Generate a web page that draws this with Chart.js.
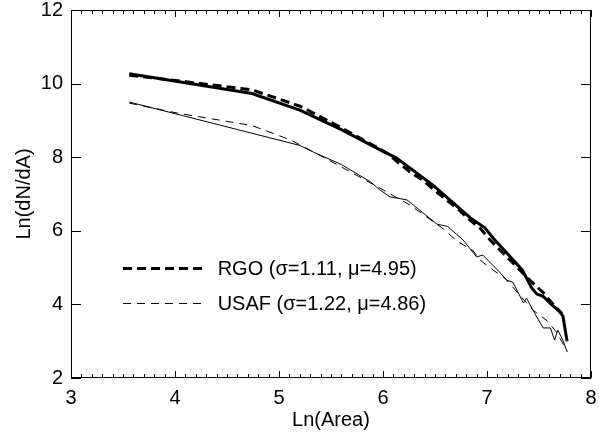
<!DOCTYPE html>
<html lang="en">
  <head>
    <meta charset="UTF-8" />
    <title>Ln(dN/dA) vs Ln(Area)</title>
    <style>
      html, body {
        margin: 0;
        padding: 0;
        background: #ffffff;
      }
      .chart-container {
        position: relative;
        width: 599px;
        height: 434px;
      }
    </style>
    <script src="https://cdn.jsdelivr.net/npm/chart.js@4.4.1/dist/chart.umd.min.js"></script>
  </head>
  <body>
    <div class="chart-container">
      <canvas id="areaChart"></canvas>
    </div>

    <script>
      // RGO measured distribution (thick solid)
      const rgoX = [3.56, 4.74, 5.20, 5.60, 6.00, 6.13, 6.48, 6.84, 6.98, 7.06, 7.20, 7.34, 7.43, 7.48, 7.54, 7.62, 7.70, 7.73, 7.77];
      const rgoY = [10.27, 9.73, 9.28, 8.75, 8.16, 7.98, 7.24, 6.35, 6.08, 5.80, 5.37, 4.93, 4.45, 4.28, 4.22, 4.00, 3.80, 3.68, 3.00];

      // RGO fit (thick dashed)
      const rgoFitX = [3.56, 4.14, 4.74, 5.20, 5.60, 6.04, 6.14, 6.26, 6.38, 6.48, 6.60, 6.71, 6.81, 6.93, 7.03, 7.23, 7.43, 7.54, 7.62, 7.72];
      const rgoFitY = [10.23, 10.04, 9.83, 9.39, 8.80, 8.11, 7.87, 7.60, 7.38, 7.14, 6.86, 6.62, 6.35, 6.08, 5.75, 5.18, 4.61, 4.32, 4.05, 3.75];

      // USAF measured distribution (thin solid)
      const usafX = [3.56, 5.20, 5.33, 5.60, 5.88, 5.97, 6.07, 6.13, 6.23, 6.52, 6.62, 6.77, 6.90, 6.96, 7.13, 7.19, 7.25, 7.35, 7.38, 7.44, 7.54, 7.61, 7.65, 7.68, 7.73, 7.77];
      const usafY = [9.50, 8.32, 8.14, 7.80, 7.33, 7.11, 6.92, 6.89, 6.84, 6.18, 6.12, 5.75, 5.29, 5.34, 4.85, 4.66, 4.60, 4.04, 4.17, 3.85, 3.36, 3.36, 3.03, 3.30, 3.03, 2.71];

      // USAF fit (thin dashed)
      const usafFitX = [3.56, 4.02, 4.74, 5.11, 5.40, 5.70, 5.97, 6.26, 6.58, 6.72, 6.86, 6.93, 7.06, 7.17, 7.30, 7.44, 7.58, 7.67, 7.77];
      const usafFitY = [9.47, 9.20, 8.86, 8.47, 8.04, 7.58, 7.16, 6.70, 6.05, 5.70, 5.48, 5.21, 4.93, 4.72, 4.30, 3.85, 3.55, 3.24, 2.73];

      const legendLabels = ["RGO (\u03c3=1.11, \u03bc=4.95)", "USAF (\u03c3=1.22, \u03bc=4.86)"];

      const FONT = "'Liberation Sans', Arial, Helvetica, sans-serif";
      const FONT_SIZE = 20;

      function pts(xs, ys) {
        return xs.map((x, i) => ({ x: x, y: ys[i] }));
      }

      // frame with inward ticks on all four sides, IDL style
      const frameTicks = {
        id: "frameTicks",
        afterDraw(chart) {
          const { ctx, chartArea: a, scales } = chart;
          const xs = scales.x;
          const ys = scales.y;
          ctx.save();
          ctx.strokeStyle = "#000";
          ctx.lineWidth = 1;
          ctx.strokeRect(a.left + 0.5, a.top + 0.5, a.right - a.left - 1, a.bottom - a.top - 1);
          ctx.beginPath();
          for (let i = 0; i <= 50; i++) {
            const v = 3 + i * 0.1;
            const px = Math.round(xs.getPixelForValue(v)) + 0.5;
            const len = i % 10 === 0 ? 7 : 4;
            ctx.moveTo(px, a.bottom);
            ctx.lineTo(px, a.bottom - len);
            ctx.moveTo(px, a.top);
            ctx.lineTo(px, a.top + len);
          }
          for (let v = 2; v <= 12; v += 2) {
            const py = Math.round(ys.getPixelForValue(v)) + 0.5;
            ctx.moveTo(a.left, py);
            ctx.lineTo(a.left + 10, py);
            ctx.moveTo(a.right, py);
            ctx.lineTo(a.right - 10, py);
          }
          ctx.stroke();
          ctx.restore();
        },
      };

      // legend drawn inside the plot, only the two fits
      const innerLegend = {
        id: "innerLegend",
        afterDatasetsDraw(chart) {
          const { ctx, scales } = chart;
          const fits = [chart.data.datasets[1], chart.data.datasets[3]];
          const rows = [4.99, 4.04];
          ctx.save();
          ctx.font = FONT_SIZE + "px " + FONT;
          ctx.fillStyle = "#000";
          ctx.textBaseline = "middle";
          fits.forEach((ds, i) => {
            const y = Math.round(scales.y.getPixelForValue(rows[i]));
            const x0 = scales.x.getPixelForValue(3.5);
            const x1 = scales.x.getPixelForValue(4.29);
            ctx.strokeStyle = "#000";
            ctx.lineWidth = ds.borderWidth;
            ctx.setLineDash(ds.borderDash);
            ctx.beginPath();
            ctx.moveTo(x0, y + 0.5);
            ctx.lineTo(x1, y + 0.5);
            ctx.stroke();
            ctx.setLineDash([]);
            ctx.fillText(legendLabels[i], scales.x.getPixelForValue(4.41), y + 1);
          });
          ctx.restore();
        },
      };

      const ctx = document.getElementById("areaChart").getContext("2d");
      new Chart(ctx, {
        type: "scatter",
        data: {
          datasets: [
            {
              label: "RGO",
              data: pts(rgoX, rgoY),
              borderColor: "#000",
              borderWidth: 3,
              showLine: true,
              pointRadius: 0,
              order: 2,
            },
            {
              label: legendLabels[0],
              data: pts(rgoFitX, rgoFitY),
              borderColor: "#000",
              borderWidth: 3,
              borderDash: [9, 5],
              showLine: true,
              pointRadius: 0,
              order: 1,
            },
            {
              label: "USAF",
              data: pts(usafX, usafY),
              borderColor: "#000",
              borderWidth: 1,
              showLine: true,
              pointRadius: 0,
              order: 4,
            },
            {
              label: legendLabels[1],
              data: pts(usafFitX, usafFitY),
              borderColor: "#000",
              borderWidth: 1,
              borderDash: [8, 6],
              showLine: true,
              pointRadius: 0,
              order: 3,
            },
          ],
        },
        options: {
          responsive: true,
          maintainAspectRatio: false,
          animation: false,
          layout: { padding: { top: 10, right: 8, left: 0, bottom: 0 } },
          plugins: {
            legend: { display: false },
            tooltip: { enabled: false },
          },
          scales: {
            x: {
              type: "linear",
              min: 3,
              max: 8,
              grid: { display: false, drawTicks: false },
              border: { display: false },
              ticks: {
                stepSize: 1,
                color: "#000",
                padding: 8,
                font: { family: FONT, size: FONT_SIZE },
              },
              title: {
                display: true,
                text: "Ln(Area)",
                color: "#000",
                padding: { top: 0, bottom: 2 },
                font: { family: FONT, size: FONT_SIZE },
              },
              afterFit(scale) {
                scale.height = 56;
                scale.paddingLeft = 0;
                scale.paddingRight = 0;
              },
            },
            y: {
              type: "linear",
              min: 2,
              max: 12,
              grid: { display: false, drawTicks: false },
              border: { display: false },
              ticks: {
                stepSize: 2,
                color: "#000",
                padding: 8,
                font: { family: FONT, size: FONT_SIZE },
              },
              title: {
                display: true,
                text: "Ln(dN/dA)",
                color: "#000",
                padding: { top: 12, bottom: 0 },
                font: { family: FONT, size: FONT_SIZE },
              },
              afterFit(scale) {
                scale.width = 71;
                scale.paddingTop = 0;
                scale.paddingBottom = 0;
              },
            },
          },
        },
        plugins: [frameTicks, innerLegend],
      });
    </script>
  </body>
</html>
